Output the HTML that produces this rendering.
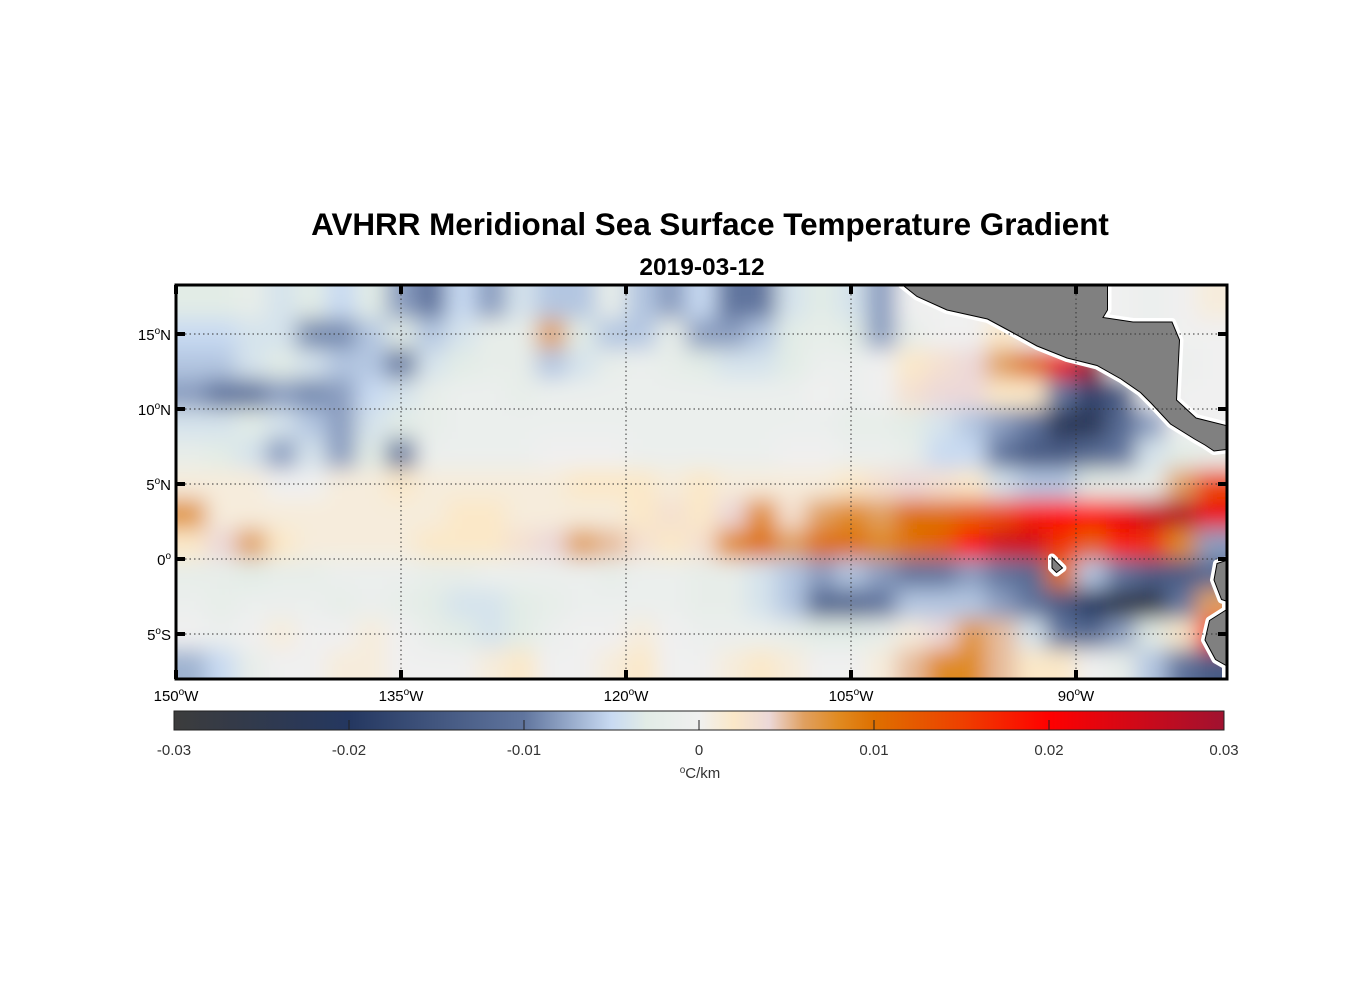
<!DOCTYPE html>
<html><head><meta charset="utf-8">
<style>
body{margin:0;background:#fff;width:1356px;height:1000px;overflow:hidden;font-family:"Liberation Sans",sans-serif;}
svg{position:absolute;left:0;top:0;}
</style></head>
<body>
<svg id="chart" width="1356" height="1000" xmlns="http://www.w3.org/2000/svg">
<defs>
<filter id="blur" x="-5%" y="-5%" width="110%" height="110%"><feGaussianBlur stdDeviation="11"/></filter>
<clipPath id="frameclip"><rect x="176" y="285" width="1051" height="394"/></clipPath>
<linearGradient id="cbgrad" x1="0" x2="1" y1="0" y2="0"></linearGradient>
</defs>
<text x="710" y="235" text-anchor="middle" font-size="31.4" font-weight="bold" fill="#000">AVHRR Meridional Sea Surface Temperature Gradient</text>
<text x="702" y="275" text-anchor="middle" font-size="24.5" font-weight="bold" fill="#000">2019-03-12</text>
<g id="heat" clip-path="url(#frameclip)"><g id="cells" filter="url(#blur)"></g></g>
<g id="land" clip-path="url(#frameclip)"></g>
<g id="grid"></g>
<rect x="176" y="285" width="1051" height="394" fill="none" stroke="#000" stroke-width="3"/>
<g id="axes"></g>
<rect id="cbar" x="174" y="711" width="1050" height="19" fill="url(#cbgrad)" stroke="#222" stroke-width="1"/>
<g id="cbticks"></g>
<text x="700" y="778" text-anchor="middle" font-size="15" fill="#333"><tspan font-size="10" dy="-5">o</tspan><tspan dy="5">C/km</tspan></text>
</svg>
<script>
// values in units of 0.001 °C/km, rows from 17N to 7S (2° steps), cols 149W..81W
const lats=[17,15,13,11,9,7,5,3,1,-1,-3,-5,-7];
const lons=[];for(let l=-149;l<=-81;l+=2)lons.push(l);
const row17=[-3,-3,-2,-4,-3,-5,-3,-8,-10,-5,-8,-4,-6,-6,-2,-6,-8,-5,-10,-10,-4,-3,-4,-8,0,0,0,0,0,0,0,0,-1,0,1];
const row15=[-5,-5,-4,-4,-9,-9,-6,-3,-6,-4,-2,-2,6,-3,-6,-6,-2,-8,-8,-6,-3,-2,-3,-8,-2,0,0,2,0,0,0,0,-1,0,0];
const row13=[-6,-6,-4,-3,-4,-6,-6,-10,-4,-3,-2,-2,-6,-4,-2,-1,-2,-3,-4,-4,-3,-1,-1,0,2,3,4,6,10,22,30,0,0,-1,0];
const row11=[-8,-10,-10,-8,-9,-8,-5,-4,-2,-1,-1,-2,-1,-1,-1,-1,-1,-1,-1,-1,-1,0,-1,0,3,4,4,2,2,-10,-18,-14,0,0,0];
const row9=[-4,-4,-3,-4,-6,-8,-4,-3,-2,-1,-1,-1,-1,-1,-1,-1,-1,-1,-1,-1,-1,-1,-2,-2,-3,-4,-6,-8,-10,-22,-22,-12,-8,0,0];
const row7=[-2,-3,-4,-8,-4,-8,-3,-10,-1,-1,-1,-1,0,0,0,-1,-1,-1,-1,-1,0,0,-1,-1,-2,-5,-5,-10,-14,-14,-12,-10,-4,-3,-2];
const row5=[1,1,1,0,0,1,1,2,1,1,1,1,1,2,2,2,1,2,1,1,1,1,2,3,4,3,2,-4,-6,-6,-3,-2,-2,6,14];
const row3=[7,1,1,1,1,1,1,1,1,2,2,1,1,1,1,2,3,2,4,8,3,6,8,6,10,10,12,14,18,20,20,22,26,28,22];
const row1=[2,4,6,2,1,1,1,1,2,2,2,3,4,6,5,3,2,3,8,10,6,10,10,8,10,12,20,25,25,16,12,18,16,8,-8];
const rowS1=[-2,-2,-3,-2,-2,-1,-1,-1,-2,-2,-1,-1,-1,-1,-2,-1,-1,-2,-2,-4,-6,-8,-6,-8,-10,-10,-8,-10,-12,10,-6,-10,-14,-14,-12];
const rowS3=[-1,-2,-1,-1,-1,-2,-1,-2,-3,-4,-4,-3,-2,-1,-1,-1,-1,-2,-2,-4,-6,-12,-12,-10,-6,-6,-6,-8,-10,-14,-20,-25,-25,-10,6];
const rowS5=[0,-1,0,1,0,0,1,0,-2,-3,-4,-3,-1,0,0,1,0,-1,-1,-1,-2,-3,-3,-2,1,4,7,5,-4,-10,-12,-8,-3,2,18];
const rowS7=[-7,-5,-2,0,0,1,1,0,0,0,1,2,0,0,1,2,0,0,1,2,1,0,0,1,5,8,8,5,2,2,0,-2,-6,-10,-14];
const values=[row17,row15,row13,row11,row9,row7,row5,row3,row1,rowS1,rowS3,rowS5,rowS7];
const lonTicks=[-150,-135,-120,-105,-90];
const latTicks=[15,10,5,0,-5];
const cbTicks=[-0.03,-0.02,-0.01,0,0.01,0.02,0.03];
const cbLabels=["-0.03","-0.02","-0.01","0","0.01","0.02","0.03"];
// land outlines (lon, lat)
const landCA=[[-101.6,18.3],[-87.9,18.3],[-87.9,16.6],[-88.2,16.1],[-86.2,15.8],[-83.6,15.8],[-83.1,14.6],[-83.3,10.6],[-82,9.4],[-80,8.9],[-80,7.3],[-80.8,7.2],[-81.4,7.6],[-82.1,8.0],[-83.7,9.0],[-85,10.4],[-85.7,11.1],[-87,12.0],[-88.6,12.9],[-90.6,13.4],[-92.6,14.2],[-94.6,15.3],[-95.9,16.0],[-98.6,16.6],[-100.6,17.5]];
const landSA=[[-80,-0.1],[-80.6,-0.3],[-80.8,-1.4],[-80.3,-2.7],[-80,-2.8],[-80,-3.4],[-81.1,-4.1],[-81.4,-5.4],[-80.7,-6.7],[-80,-7.1],[-80,-8.5]];
const landGal=[[-91.6,0.1],[-91.2,-0.3],[-90.9,-0.6],[-91.3,-0.9],[-91.6,-0.6]];

const X=lon=>176+15*(lon+150), Y=lat=>559-15*lat;
const stops=[[-30,[60,60,60]],[-20,[36,55,96]],[-10,[96,117,158]],[-5,[200,218,242]],[-3,[226,236,230]],[0,[240,240,240]],[2,[251,232,200]],[4,[236,216,216]],[6,[224,160,96]],[8,[224,138,32]],[10,[222,112,0]],[15,[238,64,0]],[20,[255,0,0]],[30,[160,18,48]]];
function color(v){v=Math.max(-30,Math.min(30,v));for(let i=0;i<stops.length-1;i++){const a=stops[i],b=stops[i+1];if(v<=b[0]){const t=(v-a[0])/(b[0]-a[0]);const c=a[1].map((x,k)=>Math.round(x+(b[1][k]-x)*t));return `rgb(${c})`;}}return 'rgb(160,18,48)';}
const NS='http://www.w3.org/2000/svg';
function mk(tag,attrs,parent){const e=document.createElementNS(NS,tag);for(const k in attrs)e.setAttribute(k,attrs[k]);parent.appendChild(e);return e;}
const cells=document.getElementById('cells');
values.forEach((row,r)=>row.forEach((v,c)=>{
  let x0=X(lons[c]-1),x1=X(lons[c]+1),y0=Y(lats[r]+1),y1=Y(lats[r]-1);
  if(c===0)x0-=40; if(c===row.length-1)x1+=40; if(r===0)y0-=40; if(r===values.length-1)y1+=40;
  const e=mk('rect',{x:x0,y:y0,width:x1-x0+0.5,height:y1-y0+0.5,fill:color(v)},cells);
  
  
}));
const land=document.getElementById('land');
[landCA,landSA,landGal].forEach((poly,i)=>{
  const pts=poly.map(p=>X(p[0])+','+Y(p[1])).join(' ');
  mk('polygon',{points:pts,fill:'none',stroke:'#fff','stroke-width':8,'stroke-linejoin':'round'},land);
});
[landCA,landSA,landGal].forEach((poly,i)=>{
  const pts=poly.map(p=>X(p[0])+','+Y(p[1])).join(' ');
  const e=mk('polygon',{points:pts,fill:'#808080',stroke:'#000','stroke-width':1},land);
  
  
});
const grid=document.getElementById('grid'),axes=document.getElementById('axes');
lonTicks.forEach(l=>{
  const x=X(l);
  if(l>-150){const g=mk('line',{x1:x,x2:x,y1:285,y2:679,stroke:'#333','stroke-width':1,'stroke-dasharray':'1.5,3'},grid);}
  mk('rect',{x:x-2,y:285,width:4,height:9,fill:'#000'},axes);
  mk('rect',{x:x-2,y:670,width:4,height:9,fill:'#000'},axes);
  const t=mk('text',{x:x,y:701,'text-anchor':'middle','font-size':15,fill:'#000'},axes);
  
  
  t.innerHTML=`${-l}<tspan font-size="10" dy="-6">o</tspan><tspan dy="6">W</tspan>`;
});
latTicks.forEach(l=>{
  const y=Y(l);
  const g=mk('line',{x1:176,x2:1227,y1:y,y2:y,stroke:'#333','stroke-width':1,'stroke-dasharray':'1.5,3'},grid);
  
  
  mk('rect',{x:176,y:y-2,width:9,height:4,fill:'#000'},axes);
  mk('rect',{x:1218,y:y-2,width:9,height:4,fill:'#000'},axes);
  const t=mk('text',{x:171,y:y+6,'text-anchor':'end','font-size':15,fill:'#000'},axes);
  
  
  const suf=l>0?'N':(l<0?'S':'');
  t.innerHTML=`${Math.abs(l)}<tspan font-size="10" dy="-6">o</tspan><tspan dy="6">${suf}</tspan>`;
});
// colorbar
const grad=document.getElementById('cbgrad');
stops.forEach(s=>mk('stop',{offset:((s[0]+30)/60*100)+'%','stop-color':color(s[0])},grad));
const cbt=document.getElementById('cbticks');
cbTicks.forEach((v,i)=>{
  const x=174+(v+0.03)/0.06*1050;
  if(i>0&&i<cbTicks.length-1)mk('line',{x1:x,x2:x,y1:720,y2:730,stroke:'#222','stroke-width':1},cbt);
  const t=mk('text',{x:x,y:755,'text-anchor':'middle','font-size':15,fill:'#333'},cbt);
  
  
  t.textContent=cbLabels[i];
});
</script>
</body></html>
